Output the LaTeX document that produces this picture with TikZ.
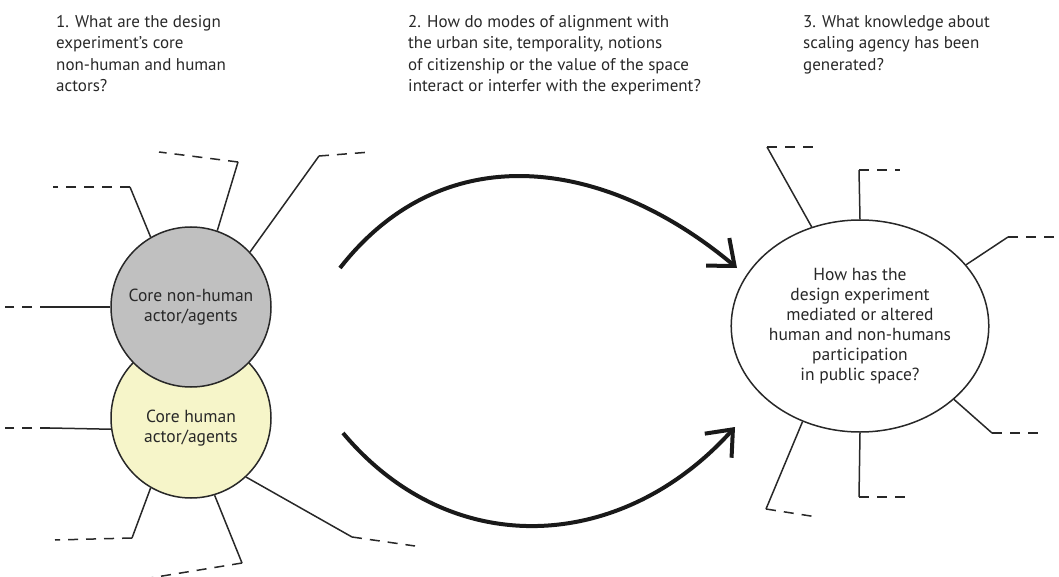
\documentclass[tikz,border=0pt]{standalone}
\usepackage{fontspec}
\setsansfont{PT Sans}
\usepackage{tikz}
\usetikzlibrary{arrows.meta,shapes.geometric}
\tikzset{every picture/.style={/utils/exec={\sffamily}}}
\definecolor{ink}{RGB}{40,40,40}
\definecolor{coregray}{RGB}{192,192,192}
\definecolor{coreyellow}{RGB}{246,245,201}
\tikzstyle{line}=[draw=ink,line width=1.5pt]
\tikzstyle{spoke}=[line]
\tikzstyle{tail}=[line,dash pattern=on 10pt off 8pt]
\tikzstyle{core}=[circle,draw=ink,line width=1.5pt,minimum size=160pt,inner sep=0pt,
  align=center,text=ink,font=\fontsize{17.5}{20}\selectfont\sffamily]
\tikzstyle{question}=[anchor=north west,align=left,inner sep=0pt,text=ink,
  font=\fontsize{17}{21.5}\selectfont\sffamily]
\tikzstyle{arrow}=[line width=4pt,draw=black!90,-{Straight Barb[length=22pt,width=36pt]}]

\begin{document}
\begin{tikzpicture}[x=1pt,y=-1pt]
    \useasboundingbox (0,0) rectangle (1059,577);
    % questions
    \node[question] (Q1) at (56,15) {1. What are the design\\experiment's core\\non-human and human\\actors?};
    \node[question] (Q2) at (408,15) {2. How do modes of alignment with\\the urban site, temporality, notions\\of citizenship or the value of the space\\interact or interfer with the experiment?};
    \node[question] (Q3) at (803,15) {3. What knowledge about\\scaling agency has been\\generated?};
    % core actors
    \node[core,fill=coreyellow,text height=52pt,text depth=4pt] (Human) at (191,418) {Core human\\actor/agents};
    \node[core,fill=coregray] (NonHuman) at (191,307) {Core non-human\\actor/agents};
    \node[core,ellipse,fill=white,minimum width=236pt,minimum height=212pt] (Outcome) at (860,326)
      {How has the\\design experiment\\mediated or altered\\human and non-humans\\participation\\in public space?};
    % spokes
    \foreach \i/\a/\cx/\cy/\ex/\ey in {1/180/50/307/5/307, 2/120/130/187/53/187,
        3/71/238/162/159/152, 4/43/319/156/371/152} {
      \coordinate (NH\i-c) at (\cx,\cy);
      \coordinate (NH\i-e) at (\ex,\ey);
      \draw[spoke] (NonHuman.\a) -- (NH\i-c);
      \draw[tail] (NH\i-c) -- (NH\i-e);
    }
    \foreach \i/\a/\cx/\cy/\ex/\ey in {1/188/50/428/5/428, 2/240/132/538/55/540,
        3/287/242/563/150/578, 4/313/352/537/415/546} {
      \coordinate (H\i-c) at (\cx,\cy);
      \coordinate (H\i-e) at (\ex,\ey);
      \draw[spoke] (Human.\a) -- (H\i-c);
      \draw[tail] (H\i-c) -- (H\i-e);
    }
    \foreach \i/\a/\cx/\cy/\ex/\ey in {1/116/767/147/817/147, 2/90/859/170/900/170,
        3/30/1008/237/1059/237, 4/322/992/433/1045/433, 5/270/859/497/905/497,
        6/239/766/509/817/517} {
      \coordinate (O\i-c) at (\cx,\cy);
      \coordinate (O\i-e) at (\ex,\ey);
      \draw[spoke] (Outcome.\a) -- (O\i-c);
      \draw[tail] (O\i-c) -- (O\i-e);
    }
    % arcs
    \coordinate (Up-s) at (340,268);
    \coordinate (Up-e) at (737,268);
    \coordinate (Low-s) at (343,433);
    \coordinate (Low-e) at (735,427);
    \draw[arrow] (Up-s) to[out=52,in=140,looseness=1.1] (Up-e);
    \draw[arrow] (Low-s) to[out=-50,in=-132,looseness=1.1] (Low-e);
  \end{tikzpicture}
\end{document}
